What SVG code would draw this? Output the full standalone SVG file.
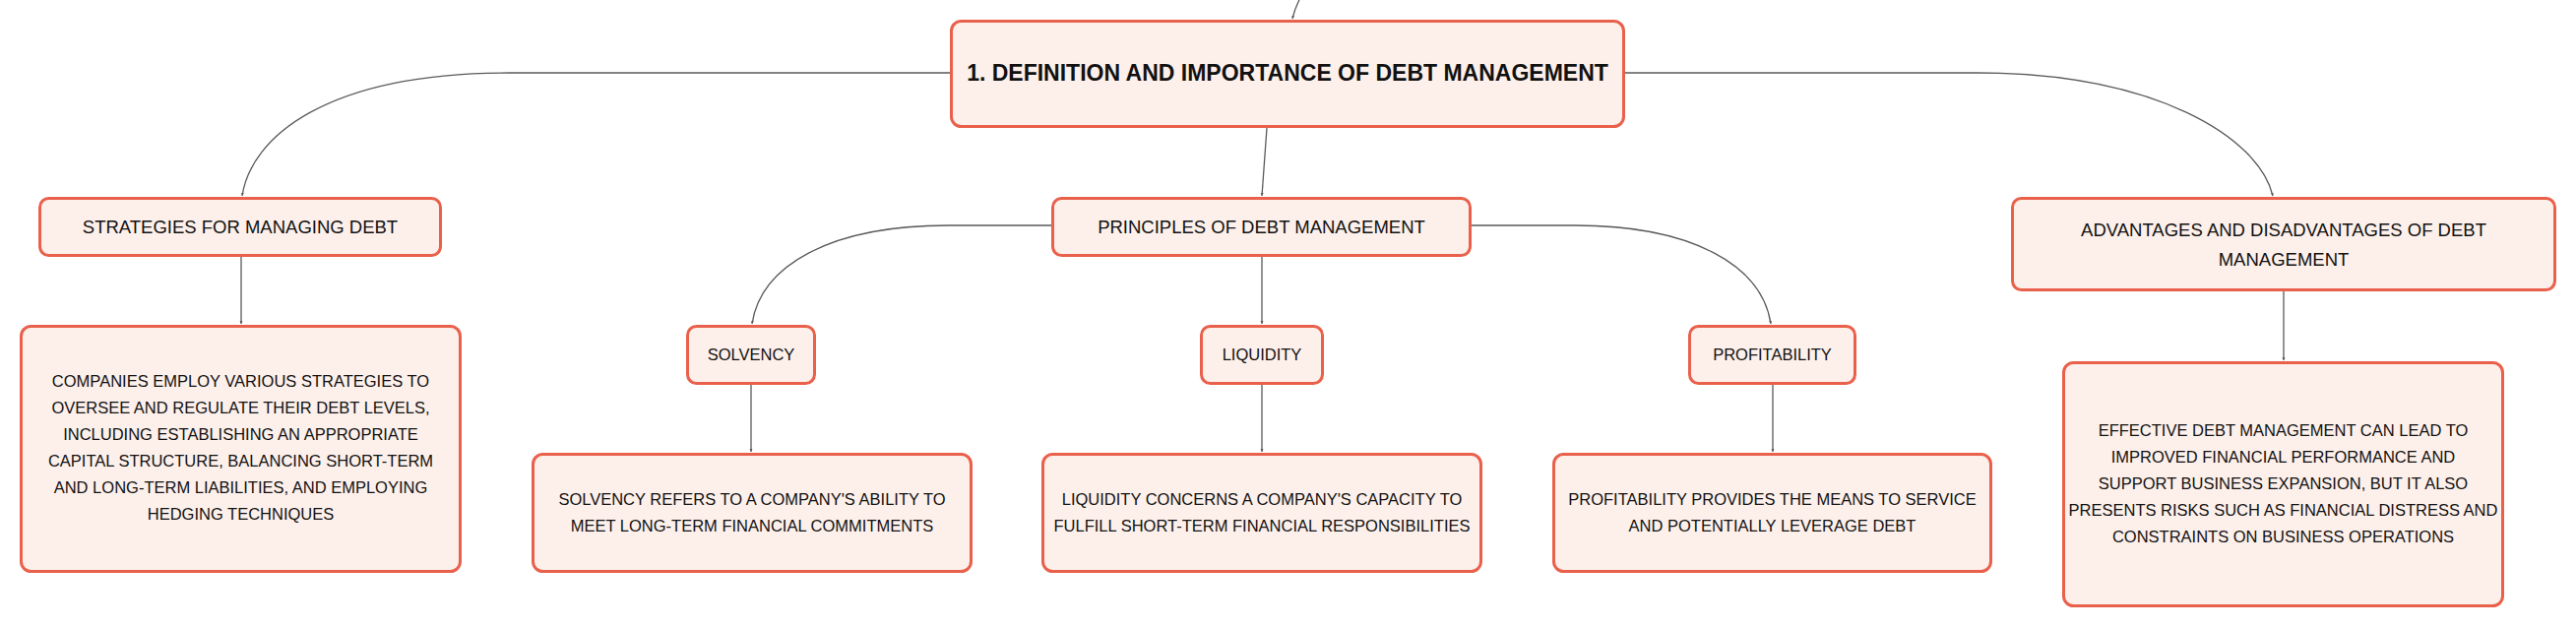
<svg xmlns="http://www.w3.org/2000/svg" width="2617" height="638" viewBox="0 0 2617 638">
<style>
.box{fill:#FDF0EB;stroke:#E9604B;stroke-width:3}
.conn{fill:none;stroke:#5A5A5A;stroke-width:1.3}
.t{font-family:"Liberation Sans",Arial,sans-serif;fill:#111111;text-anchor:middle}
.root{font-size:23px;font-weight:bold}
.l2{font-size:18.5px}
.l3{font-size:16.5px}
.c{font-size:16.5px}
</style>
<defs>
<marker id="tip" markerWidth="4" markerHeight="4" refX="3" refY="2" orient="auto" markerUnits="userSpaceOnUse">
<path d="M0,0.5 L3,2 L0,3.5 Z" fill="#5A5A5A"/>
</marker>
</defs>
<rect width="2617" height="638" fill="#FFFFFF"/>
<g id="connectors">
<path class="conn" d="M1324,-8 Q1316,6 1313,19" marker-end="url(#tip)"/>
<path class="conn" d="M965,74 H517 C330,74 255,140 246,199" marker-end="url(#tip)"/>
<path class="conn" d="M1651,74 H2009 C2190,74 2295,140 2309,199" marker-end="url(#tip)"/>
<path class="conn" d="M1287,130 L1282,199" marker-end="url(#tip)"/>
<path class="conn" d="M1068,229 H963 C843,229 773,270 764,329" marker-end="url(#tip)"/>
<path class="conn" d="M1495,229 H1600 C1720,229 1790,270 1799,329" marker-end="url(#tip)"/>
<path class="conn" d="M1282,261 V329" marker-end="url(#tip)"/>
<path class="conn" d="M245,261 V329" marker-end="url(#tip)"/>
<path class="conn" d="M763,391 V459" marker-end="url(#tip)"/>
<path class="conn" d="M1282,391 V459" marker-end="url(#tip)"/>
<path class="conn" d="M1801,391 V459" marker-end="url(#tip)"/>
<path class="conn" d="M2320,296 V366" marker-end="url(#tip)"/>
</g>
<g id="root">
<rect class="box" x="966.5" y="21.5" width="683" height="107" rx="10"/>
<text class="t root" x="1308" y="82">1. DEFINITION AND IMPORTANCE OF DEBT MANAGEMENT</text>
</g>
<g id="strategies">
<rect class="box" x="40.5" y="201.5" width="407" height="58" rx="9"/>
<text class="t l2" x="244" y="236.6">STRATEGIES FOR MANAGING DEBT</text>
</g>
<g id="principles">
<rect class="box" x="1069.5" y="201.5" width="424" height="58" rx="9"/>
<text class="t l2" x="1281.5" y="236.6">PRINCIPLES OF DEBT MANAGEMENT</text>
</g>
<g id="advantages">
<rect class="box" x="2044.5" y="201.5" width="551" height="93" rx="9"/>
<text class="t l2" x="2320" y="239.6">ADVANTAGES AND DISADVANTAGES OF DEBT</text>
<text class="t l2" x="2320" y="269.6">MANAGEMENT</text>
</g>
<g id="strategies-detail">
<rect class="box" x="21.5" y="331.5" width="446" height="249" rx="10"/>
<text class="t c" x="244.5" y="393">COMPANIES EMPLOY VARIOUS STRATEGIES TO</text>
<text class="t c" x="244.5" y="420">OVERSEE AND REGULATE THEIR DEBT LEVELS,</text>
<text class="t c" x="244.5" y="447">INCLUDING ESTABLISHING AN APPROPRIATE</text>
<text class="t c" x="244.5" y="474">CAPITAL STRUCTURE, BALANCING SHORT-TERM</text>
<text class="t c" x="244.5" y="501">AND LONG-TERM LIABILITIES, AND EMPLOYING</text>
<text class="t c" x="244.5" y="528">HEDGING TECHNIQUES</text>
</g>
<g id="solvency">
<rect class="box" x="698.5" y="331.5" width="129" height="58" rx="9"/>
<text class="t l3" x="763" y="366">SOLVENCY</text>
</g>
<g id="liquidity">
<rect class="box" x="1220.5" y="331.5" width="123" height="58" rx="9"/>
<text class="t l3" x="1282" y="366">LIQUIDITY</text>
</g>
<g id="profitability">
<rect class="box" x="1716.5" y="331.5" width="168" height="58" rx="9"/>
<text class="t l3" x="1800.5" y="366">PROFITABILITY</text>
</g>
<g id="solvency-detail">
<rect class="box" x="541.5" y="461.5" width="445" height="119" rx="10"/>
<text class="t c" x="764" y="513">SOLVENCY REFERS TO A COMPANY'S ABILITY TO</text>
<text class="t c" x="764" y="540">MEET LONG-TERM FINANCIAL COMMITMENTS</text>
</g>
<g id="liquidity-detail">
<rect class="box" x="1059.5" y="461.5" width="445" height="119" rx="10"/>
<text class="t c" x="1282" y="513">LIQUIDITY CONCERNS A COMPANY'S CAPACITY TO</text>
<text class="t c" x="1282" y="540">FULFILL SHORT-TERM FINANCIAL RESPONSIBILITIES</text>
</g>
<g id="profitability-detail">
<rect class="box" x="1578.5" y="461.5" width="444" height="119" rx="10"/>
<text class="t c" x="1800.5" y="513">PROFITABILITY PROVIDES THE MEANS TO SERVICE</text>
<text class="t c" x="1800.5" y="540">AND POTENTIALLY LEVERAGE DEBT</text>
</g>
<g id="advantages-detail">
<rect class="box" x="2096.5" y="368.5" width="446" height="247" rx="10"/>
<text class="t c" x="2319.5" y="443">EFFECTIVE DEBT MANAGEMENT CAN LEAD TO</text>
<text class="t c" x="2319.5" y="470">IMPROVED FINANCIAL PERFORMANCE AND</text>
<text class="t c" x="2319.5" y="497">SUPPORT BUSINESS EXPANSION, BUT IT ALSO</text>
<text class="t c" x="2319.5" y="524">PRESENTS RISKS SUCH AS FINANCIAL DISTRESS AND</text>
<text class="t c" x="2319.5" y="551">CONSTRAINTS ON BUSINESS OPERATIONS</text>
</g>
</svg>
